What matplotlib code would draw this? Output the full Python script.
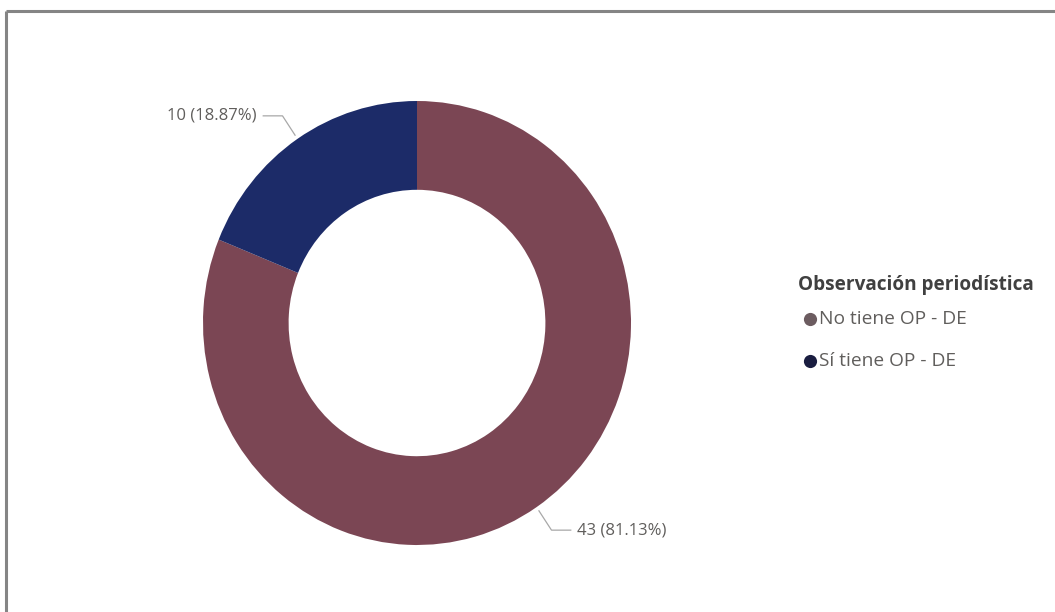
import numpy as np
import matplotlib
matplotlib.use("Agg")
import matplotlib.pyplot as plt

plt.rcParams['font.family'] = ['Open Sans', 'DejaVu Sans']

# observation counts per category
categories = ['No tiene OP - DE', 'Sí tiene OP - DE']
counts = [43, 10]
slice_colors = ['#7b4654', '#1c2b68']
legend_colors = ['#6c5c60', '#1a1d40']
legend_title = 'Observación periodística'

W, H = 1055, 612
fig = plt.figure(figsize=(W / 100, H / 100), dpi=100)

# donut axes, placed over its pixel bounding box
x0, x1, y0, y1 = 203, 631, 101, 545
ax = fig.add_axes([x0 / W, (H - y1) / H, (x1 - x0) / W, (y1 - y0) / H])
wedges, _ = ax.pie(counts, colors=slice_colors, startangle=90, counterclock=False,
                   radius=1.0, wedgeprops=dict(width=0.4, linewidth=0))
ax.set_aspect('auto')
ax.set_xlim(-1, 1)
ax.set_ylim(-1, 1)
ax.axis('off')

# data labels with leader lines
total = sum(counts)
for w, c in zip(wedges, counts):
    mid = np.deg2rad((w.theta1 + w.theta2) / 2)
    p0 = (1.02 * np.cos(mid), 1.02 * np.sin(mid))
    p1 = (1.125 * np.cos(mid), 1.125 * np.sin(mid))
    side = 1 if np.cos(mid) > 0 else -1
    p2 = (p1[0] + side * 0.09, p1[1])
    ax.plot([p0[0], p1[0], p2[0]], [p0[1], p1[1], p2[1]], color='#a8a8a8',
            lw=0.9, clip_on=False)
    ax.text(p2[0] + side * 0.03, p2[1], f'{c} ({c / total * 100:.2f}%)',
            ha='left' if side > 0 else 'right', va='center',
            fontsize=12, color='#605e5c')

# overlay in pixel coordinates for frame and legend
ov = fig.add_axes([0, 0, 1, 1], zorder=-1)
ov.set_xlim(0, W)
ov.set_ylim(H, 0)
ov.axis('off')
ov.plot([6, W], [11, 11], color='#858585', lw=2.2, solid_capstyle='butt')
ov.plot([6, 6], [11, H], color='#858585', lw=2.2, solid_capstyle='butt')

lg = fig.add_axes([0, 0, 1, 1], zorder=3)
lg.set_xlim(0, W)
lg.set_ylim(H, 0)
lg.axis('off')
lg.text(798, 285, legend_title, fontsize=13.7, fontweight='bold',
        color='#404040', va='center', ha='left')
for i, (name, col) in enumerate(zip(categories, legend_colors)):
    yy = 319 + i * 42
    lg.scatter([810], [yy], s=90, color=col, linewidths=0)
    lg.text(819, yy, name, fontsize=13.8, color='#605e5c', va='center', ha='left')

fig.savefig('out.png', dpi=100, facecolor='white')
